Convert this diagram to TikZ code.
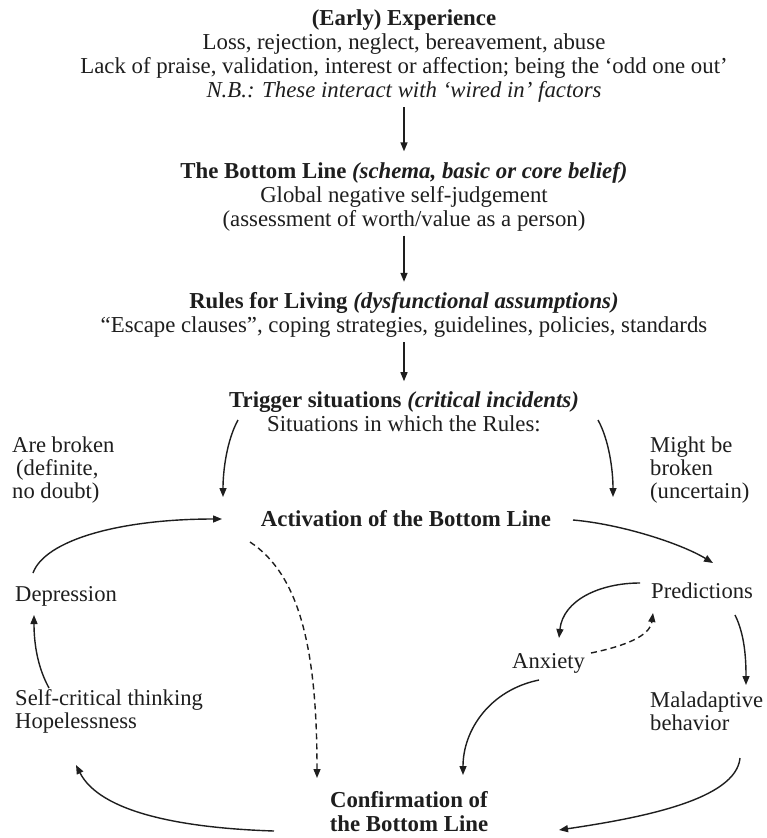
\documentclass[tikz,border=0pt]{standalone}
\usepackage{fontspec}
\setmainfont{Liberation Serif}
\usetikzlibrary{arrows.meta}
\definecolor{ink}{HTML}{1E1E1E}
\begin{document}
\begin{tikzpicture}[x=1pt,y=-1pt,
  txt/.style={inner sep=0pt, align=center, font=\fontsize{22.8}{24}\selectfont, text=ink},
  ltxt/.style={inner sep=0pt, align=left, anchor=west, font=\fontsize{22.6}{23}\selectfont, text=ink},
  arr/.style={draw=ink, line width=1.4pt, -{Triangle[length=9pt,width=7pt]}},
  dsh/.style={arr, dash pattern=on 6pt off 4pt},
  vgap/.style={shorten <=4.5pt, shorten >=10.5pt}]
\fill[white] (0,0) rectangle (766,838);
\useasboundingbox (0,0) rectangle (766,838);

% text blocks
\node[txt] (exp) at (404,56) {\textbf{(Early) Experience}\\Loss, rejection, neglect, bereavement, abuse\\Lack of praise, validation, interest or affection; being the ‘odd one out’\\\textit{N.B.: These interact with ‘wired in’ factors}};
\node[txt] (bl) at (404,196.5) {\textbf{The Bottom Line \textit{(schema, basic or core belief)}}\\Global negative self-judgement\\(assessment of worth/value as a person)};
\node[txt] (rules) at (404,315) {\textbf{Rules for Living \textit{(dysfunctional assumptions)}}\\“Escape clauses”, coping strategies, guidelines, policies, standards};
\node[txt] (trig) at (404,412) {\textbf{Trigger situations \textit{(critical incidents)}}\\Situations in which the Rules:};
\node[ltxt] (broken) at (12,470) {Are broken\\\hspace{4pt}(definite,\\no doubt)};
\node[ltxt] (might) at (650,470) {Might be\\broken\\(uncertain)};
\node[txt] (act) at (406,519) {\textbf{Activation of the Bottom Line}};
\node[ltxt] (dep) at (15,596) {Depression};
\node[ltxt] (pred) at (651,591) {Predictions};
\node[ltxt] (anx) at (512,663) {Anxiety};
\node[ltxt] (selfc) at (15,711) {Self-critical thinking\\Hopelessness};
\node[ltxt] (mal) at (650,711) {Maladaptive\\behavior};
\node[txt] (conf) at (409,812) {\textbf{Confirmation of}\\\textbf{the Bottom Line}};

% connector end points
\coordinate (trigL) at (238,420);
\coordinate (actL) at (223,497);
\coordinate (trigR) at (598,420);
\coordinate (actR) at (613,497);
\coordinate (depT) at (33,573);
\coordinate (actW) at (222,519);
\coordinate (actE) at (573,520);
\coordinate (predT) at (713,563);
\coordinate (actS) at (250,542);
\coordinate (confT) at (317,778);
\coordinate (predW) at (640,583);
\coordinate (anxT) at (559,638);
\coordinate (anxE) at (591,653);
\coordinate (predB) at (653,613);
\coordinate (predS) at (735,615);
\coordinate (malT) at (746,685);
\coordinate (anxS) at (539,680);
\coordinate (confT2) at (463,775);
\coordinate (malS) at (740,758);
\coordinate (confE) at (559,830);
\coordinate (confW) at (274,831);
\coordinate (selfT2) at (76,765);
\coordinate (selfT) at (49,688);
\coordinate (depB) at (34,615);

% vertical chain
\draw[arr,vgap] (exp) -- (bl);
\draw[arr,vgap] (bl) -- (rules);
\draw[arr,vgap] (rules) -- (trig);

% trigger branches
\draw[arr] (trigL) .. controls (227,440) and (223,470) .. (actL);
\draw[arr] (trigR) .. controls (609,440) and (613,470) .. (actR);

% cycle
\draw[arr] (depT) .. controls (45,540) and (120,519) .. (actW);
\draw[arr] (actE) .. controls (620,524) and (680,543) .. (predT);
\draw[dsh] (actS) .. controls (300,575) and (317,650) .. (confT);
\draw[arr] (predW) .. controls (600,583) and (563,600) .. (anxT);
\draw[dsh] (anxE) .. controls (625,646) and (650,636) .. (predB);
\draw[arr] (predS) .. controls (745,635) and (746,660) .. (malT);
\draw[arr] (anxS) .. controls (490,690) and (463,730) .. (confT2);
\draw[arr] (malS) .. controls (736,800) and (640,818) .. (confE);
\draw[arr] (confW) .. controls (180,828) and (100,812) .. (selfT2);
\draw[arr] (selfT) .. controls (38,668) and (34,645) .. (depB);
\end{tikzpicture}
\end{document}
